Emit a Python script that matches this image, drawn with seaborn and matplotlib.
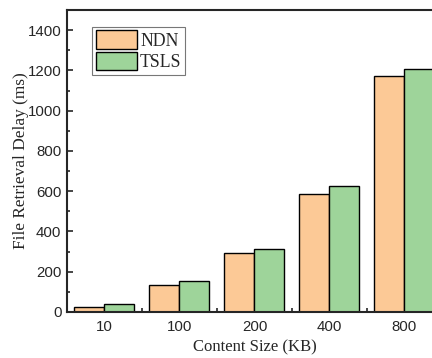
import matplotlib
matplotlib.use('Agg')
import matplotlib.pyplot as plt
from matplotlib.ticker import MultipleLocator, FixedLocator
import pandas as pd
import seaborn as sns

sizes = ['10', '100', '200', '400', '800']
ndn = [25, 134, 294, 585, 1170]
tsls = [40, 152, 311, 627, 1207]
schemes = ['NDN', 'TSLS']
colors = ['#FCC996', '#9ED49A']

df = pd.DataFrame({
    'size'  : sizes * 2,
    'delay' : ndn + tsls,
    'scheme': ['NDN'] * len(sizes) + ['TSLS'] * len(sizes),
})

sns.set_style('ticks')
plt.rcParams['font.family'] = ['Liberation Sans', 'DejaVu Sans']

fig = plt.figure(figsize=(4.32, 3.58), dpi=100)
ax = fig.add_axes([0.155, 0.1285, 0.868, 0.8435])

sns.barplot(
    data      = df,
    x         = 'size',
    y         = 'delay',
    hue       = 'scheme',
    hue_order = schemes,
    palette   = colors,
    width     = 0.8,
    edgecolor = 'black',
    linewidth = 1.0,
    saturation= 1,
    ax        = ax,
)

ax.set_xlim(-0.5, 4.5)
ax.set_ylim(0, 1500)
ax.yaxis.set_major_locator(MultipleLocator(200))
ax.yaxis.set_minor_locator(MultipleLocator(100))
ax.xaxis.set_minor_locator(FixedLocator([0.5, 1.5, 2.5, 3.5]))
ax.tick_params(axis='both', which='both', direction='in', labelsize=10.8, width=1.2)
ax.tick_params(axis='y', which='major', length=4, pad=4)
ax.tick_params(axis='y', which='minor', length=2.5)
ax.tick_params(axis='x', which='major', length=0, pad=6)
ax.tick_params(axis='x', which='minor', length=3)

for s in ax.spines.values():
    s.set_linewidth(1.5)

serif = ['Liberation Serif', 'DejaVu Serif']
ax.set_xlabel('Content Size (KB)', fontsize=12, family=serif, labelpad=4)
ax.set_ylabel('File Retrieval Delay (ms)', fontsize=12.4, family=serif, labelpad=-1)

leg = ax.legend(
    loc='upper left', bbox_to_anchor=(0.067, 0.944),
    prop={'family': serif, 'size': 12.8},
    frameon=True, fancybox=False, edgecolor='#555555',
    handlelength=2.3, handleheight=1.25, handletextpad=0.2,
    borderpad=0.2, labelspacing=0.1, borderaxespad=0,
)
leg.get_frame().set_linewidth(0.8)

fig.savefig('out.png', dpi=100)
plt.close()
